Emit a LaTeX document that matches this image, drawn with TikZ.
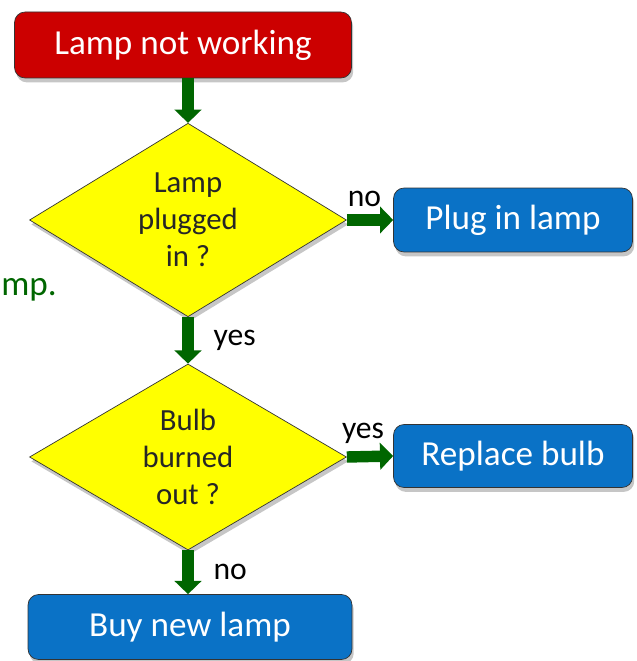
\documentclass[tikz,border=0pt]{standalone}
\usepackage{fontspec}
\setmainfont{Carlito}
\usepackage{xcolor}
\usetikzlibrary{arrows.meta, shapes.geometric, shadows}

\definecolor{lampred}{HTML}{CC0000}
\definecolor{lampblue}{HTML}{0A72C6}
\definecolor{lampyellow}{HTML}{FFFF00}
\definecolor{lampgreen}{HTML}{006600}

\begin{document}
\begin{tikzpicture}[x=0.02cm, y=-0.02cm,
    box/.style={rectangle, rounded corners=6pt, draw=black!80, thin,
        text=white, font=\fontsize{20}{24}\selectfont,
        drop shadow={shadow xshift=1pt, shadow yshift=-2.5pt, opacity=0.45}},
    question/.style={diamond, draw=black!80, thin, fill=lampyellow,
        minimum width=6.34cm, minimum height=3.66cm, inner sep=0pt,
        align=center, font=\fontsize{17.5}{21}\selectfont, text=black!85,
        drop shadow={shadow xshift=1pt, shadow yshift=-2.5pt, opacity=0.45}},
    flow/.style={draw=lampgreen, line width=6.5pt,
        -{Triangle[length=7.5pt, width=15pt]}},
    answer/.style={font=\fontsize{18}{20}\selectfont, text=black}
]

    % Frame
    \useasboundingbox (0,0) rectangle (636,661);

    % Boxes
    \node[box, fill=lampred, minimum width=6.74cm, minimum height=1.32cm]
        (start) at (183,45) {Lamp not working};
    \node[question] (plugged) at (188,220) {Lamp\\plugged\\in ?};
    \node[box, fill=lampblue, minimum width=4.78cm, minimum height=1.28cm]
        (pluglamp) at (513,220) {Plug in lamp};
    \node[question] (burned) at (188,457) {Bulb\\burned\\out ?};
    \node[box, fill=lampblue, minimum width=4.78cm, minimum height=1.26cm]
        (replace) at (513,456) {Replace bulb};
    \node[box, fill=lampblue, minimum width=6.48cm, minimum height=1.3cm]
        (buylamp) at (190,627) {Buy new lamp};

    % Side note
    \node[anchor=base west, text=lampgreen, font=\fontsize{20}{24}\selectfont,
        inner sep=0pt] (note) at (1,296) {mp.};

    % Arrows
    \draw[flow] (start.south -| plugged.north) -- (plugged.north);
    \draw[flow] (plugged.east) -- (pluglamp.west)
        node[answer, pos=0.38, above=1pt] (noplug) {no};
    \draw[flow] (plugged.south) -- (burned.north)
        node[answer, midway, right=8pt] (yesplug) {yes};
    \draw[flow] (burned.east) -- (replace.west)
        node[answer, pos=0.35, above=1pt] (yesbulb) {yes};
    \draw[flow] (burned.south) -- (buylamp.north -| burned.south)
        node[answer, midway, right=8pt] (nobulb) {no};
\end{tikzpicture}
\end{document}
